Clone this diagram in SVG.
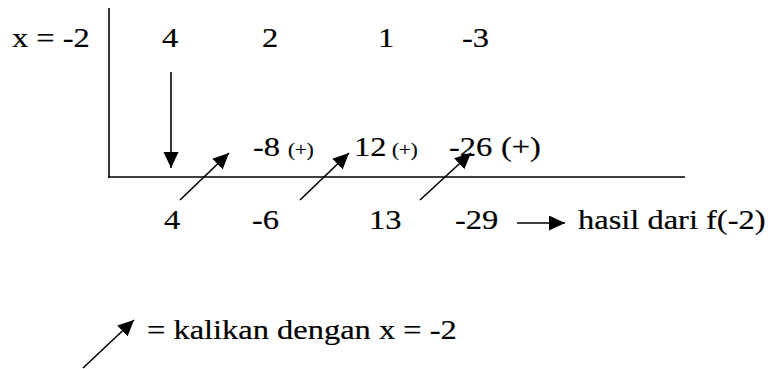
<svg xmlns="http://www.w3.org/2000/svg" width="777" height="369" viewBox="0 0 777 369">
<style>
  .t { font-family: 'Liberation Serif', 'Times New Roman', serif; font-size: 28px; fill: #000; stroke: #000; stroke-width: 0.2; }
  .small { font-size: 18px; }
  .ln { stroke: #000; stroke-width: 1.6; fill: none; }
  .arr { stroke: #000; stroke-width: 1.6; fill: none; marker-end: url(#head); }
</style>
<defs>
  <marker id="head" markerUnits="userSpaceOnUse" markerWidth="18" markerHeight="16" refX="16" refY="7.5" orient="auto">
    <path d="M0,0 L16,7.5 L0,15 Z" fill="#000"/>
  </marker>
</defs>
<rect width="777" height="369" fill="#fff"/>
<g id="connectors">
  <line class="ln" x1="109" y1="8" x2="109" y2="178"/>
  <line class="ln" x1="108.2" y1="177" x2="685" y2="177"/>
  <line class="arr" x1="171" y1="72" x2="171" y2="168"/>
  <line class="arr" x1="180" y1="200" x2="229" y2="153"/>
  <line class="arr" x1="300" y1="200" x2="349" y2="153"/>
  <line class="arr" x1="420" y1="200" x2="471" y2="153"/>
  <line class="arr" x1="517" y1="223" x2="565" y2="223"/>
  <line class="arr" x1="83" y1="368" x2="134" y2="320"/>
</g>
<g transform="scale(1.16,1)">
<g id="label-x"><text class="t" x="10.3" y="47">x = -2</text></g>
<g id="top-row">
  <text class="t" x="139.7" y="47">4</text>
  <text class="t" x="225.9" y="47">2</text>
  <text class="t" x="325.9" y="47">1</text>
  <text class="t" x="398.3" y="47">-3</text>
</g>
<g id="middle-row">
  <text class="t" x="218.1" y="156">-8</text>
  <text class="t small" x="248.3" y="156">(+)</text>
  <text class="t" x="305.2" y="156">12</text>
  <text class="t small" x="337.9" y="156">(+)</text>
  <text class="t" x="387.1" y="156">-26</text>
  <text class="t" x="431.9" y="156">(+)</text>
</g>
<g id="bottom-row">
  <text class="t" x="141.4" y="229">4</text>
  <text class="t" x="217.2" y="229">-6</text>
  <text class="t" x="318.1" y="229">13</text>
  <text class="t" x="392.2" y="229">-29</text>
</g>
<g id="result-label"><text class="t" x="498.3" y="229">hasil dari f(-2)</text></g>
<g id="legend"><text class="t" x="126.7" y="339">= kalikan dengan x = -2</text></g>
</g>
</svg>
